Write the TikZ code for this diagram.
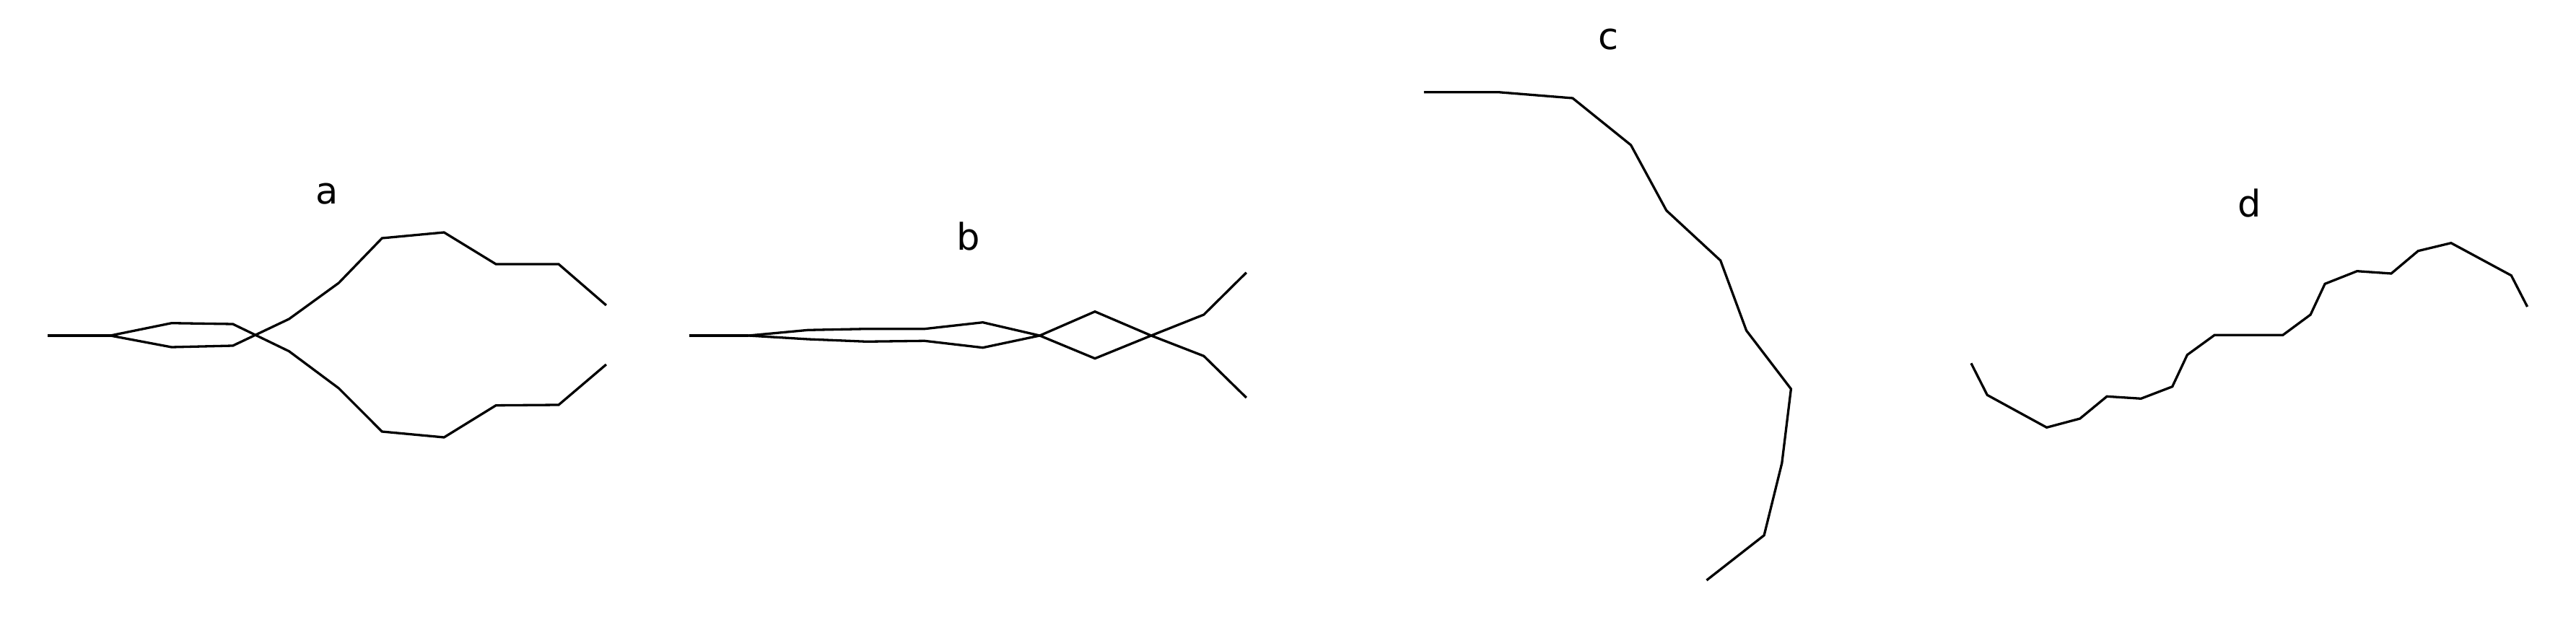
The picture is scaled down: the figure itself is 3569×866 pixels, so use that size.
\documentclass[tikz,border=0pt]{standalone}
\usepackage{fontspec}
\setmainfont{DejaVu Sans}
\begin{document}
\begin{tikzpicture}[x=1pt,y=-1pt,
  curve/.style={line width=3.3pt,black},
  lbl/.style={inner sep=0pt,outer sep=0pt,font=\fontsize{51}{60}\selectfont}]
\useasboundingbox (0,0) rectangle (3569,866);
\begin{scope}[xscale=0.9987]
% ---- a ----
\node[lbl] (la) at (454,269) {a};
\draw[curve] (66,465) -- (153,465);
\draw[curve] (153,465) -- (238,447.7) -- (323,449) -- (401,486.7) -- (470,538) -- (530,598) -- (616,606) -- (688,561.7) -- (775,561) -- (841,505);
\draw[curve] (153,465) -- (238,481) -- (323,479) -- (401,442) -- (470,392) -- (530,330) -- (616,322) -- (688,366) -- (775,366) -- (841,423);
% ---- b ----
\node[lbl] (lb) at (1343.5,327.5) {b};
\draw[curve] (956,465) -- (1038.5,465);
\draw[curve] (1038.5,465) -- (1121,457.3) -- (1201.8,455.7) -- (1282.6,455.7) -- (1363.4,446.7) -- (1442.4,465) -- (1519,496.7) -- (1597,465) -- (1670,436) -- (1729,377.7);
\draw[curve] (1038.5,465) -- (1121,470) -- (1201.8,473.3) -- (1282.6,472.3) -- (1363.4,481.7) -- (1442.4,465) -- (1519,431.7) -- (1597,465) -- (1670,493.3) -- (1729,551);
% ---- c ----
\node[lbl] (lc) at (2231.5,54.7) {c};
\draw[curve] (1975.4,127.7) -- (2078.6,127.7) -- (2181.7,136) -- (2262.5,201) -- (2311.8,291.7) -- (2386.8,361) -- (2422.7,458) -- (2484.6,538.9) -- (2472,641.7) -- (2447.3,741.7) -- (2367.5,804);
% ---- d ----
\node[lbl] (ld) at (3120.6,281.7) {d};
\draw[curve] (2734.5,503.3) -- (2756.8,547.3) -- (2839.3,592.3) -- (2885.5,580) -- (2922.8,549.3) -- (2970.2,552.3) -- (3013.6,535.7) -- (3034.3,491.7) -- (3072.1,464.3) -- (3166.9,464.3) -- (3205.3,436) -- (3225.3,393.3) -- (3269.9,375.7) -- (3317.3,379) -- (3354.6,347.7) -- (3400.3,336.7) -- (3483.8,381.7) -- (3506.1,425);
\end{scope}
\end{tikzpicture}
\end{document}
